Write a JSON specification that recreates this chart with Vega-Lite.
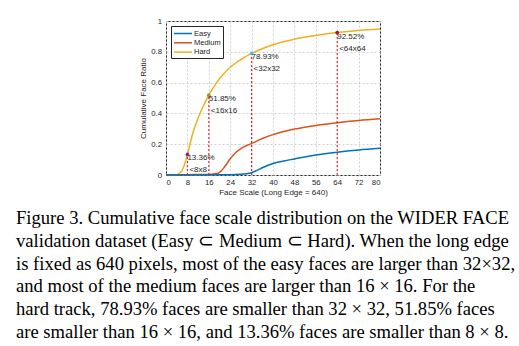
{
  "$schema": "https://vega.github.io/schema/vega-lite/v6.json",
  "autosize": "none",
  "padding": {"left": 166, "top": 21, "right": 139, "bottom": 171},
  "width": 214,
  "height": 154,
  "background": "white",
  "title": {
    "text": [
      "Figure 3. Cumulative face scale distribution on the WIDER FACE",
      "validation dataset (Easy ⊂ Medium ⊂ Hard). When the long edge",
      "is fixed as 640 pixels, most of the easy faces are larger than 32×32,",
      "and most of the medium faces are larger than 16 × 16.  For the",
      "hard track, 78.93% faces are smaller than 32 × 32, 51.85% faces",
      "are smaller than 16 × 16, and 13.36% faces are smaller than 8 × 8."
    ],
    "orient": "bottom",
    "anchor": "start",
    "frame": "group",
    "dx": -150,
    "offset": 12,
    "font": "Liberation Serif",
    "fontSize": 18.6,
    "fontWeight": "normal",
    "color": "black",
    "lineHeight": 22.9
  },
  "config": {
    "view": {"stroke": "#262626", "strokeWidth": 1},
    "axis": {
      "domain": false,
      "ticks": false,
      "grid": true,
      "gridDash": [2, 2],
      "gridColor": "#d0d0d0",
      "gridOpacity": 1,
      "labelFont": "Liberation Sans",
      "labelFontSize": 7.8,
      "labelColor": "#262626",
      "titleFont": "Liberation Sans",
      "titleFontSize": 8,
      "titleFontWeight": "normal",
      "titleColor": "#262626"
    },
    "legend": {
      "orient": "top-left",
      "offset": 5,
      "strokeColor": "#262626",
      "fillColor": "white",
      "padding": 2,
      "symbolType": "M-1,0H3",
      "symbolStrokeWidth": 1.5,
      "symbolSize": 81,
      "labelFont": "Liberation Sans",
      "labelFontSize": 7.5,
      "labelColor": "#262626",
      "labelOffset": 10,
      "rowPadding": 0.3,
      "title": null
    }
  },
  "datasets": {
    "curves": [
      {"x": 0, "y": 0, "level": "Hard"},
      {"x": 3.5, "y": 0, "level": "Hard"},
      {"x": 6, "y": 0.03, "level": "Hard"},
      {"x": 8, "y": 0.1336, "level": "Hard"},
      {"x": 10, "y": 0.27, "level": "Hard"},
      {"x": 12, "y": 0.37, "level": "Hard"},
      {"x": 14, "y": 0.45, "level": "Hard"},
      {"x": 16, "y": 0.5185, "level": "Hard"},
      {"x": 18, "y": 0.575, "level": "Hard"},
      {"x": 20, "y": 0.625, "level": "Hard"},
      {"x": 24, "y": 0.70, "level": "Hard"},
      {"x": 28, "y": 0.75, "level": "Hard"},
      {"x": 32, "y": 0.7893, "level": "Hard"},
      {"x": 36, "y": 0.82, "level": "Hard"},
      {"x": 40, "y": 0.846, "level": "Hard"},
      {"x": 48, "y": 0.882, "level": "Hard"},
      {"x": 56, "y": 0.906, "level": "Hard"},
      {"x": 64, "y": 0.9252, "level": "Hard"},
      {"x": 72, "y": 0.939, "level": "Hard"},
      {"x": 80, "y": 0.948, "level": "Hard"},
      {"x": 0, "y": 0, "level": "Medium"},
      {"x": 8, "y": 0.002, "level": "Medium"},
      {"x": 16, "y": 0.004, "level": "Medium"},
      {"x": 19.5, "y": 0.012, "level": "Medium"},
      {"x": 22, "y": 0.055, "level": "Medium"},
      {"x": 24, "y": 0.105, "level": "Medium"},
      {"x": 26, "y": 0.145, "level": "Medium"},
      {"x": 28, "y": 0.172, "level": "Medium"},
      {"x": 30, "y": 0.19, "level": "Medium"},
      {"x": 32, "y": 0.205, "level": "Medium"},
      {"x": 36, "y": 0.237, "level": "Medium"},
      {"x": 40, "y": 0.262, "level": "Medium"},
      {"x": 48, "y": 0.298, "level": "Medium"},
      {"x": 56, "y": 0.322, "level": "Medium"},
      {"x": 64, "y": 0.34, "level": "Medium"},
      {"x": 72, "y": 0.354, "level": "Medium"},
      {"x": 80, "y": 0.365, "level": "Medium"},
      {"x": 0, "y": 0, "level": "Easy"},
      {"x": 20, "y": 0.001, "level": "Easy"},
      {"x": 28, "y": 0.005, "level": "Easy"},
      {"x": 32, "y": 0.015, "level": "Easy"},
      {"x": 34, "y": 0.03, "level": "Easy"},
      {"x": 36, "y": 0.047, "level": "Easy"},
      {"x": 40, "y": 0.075, "level": "Easy"},
      {"x": 44, "y": 0.091, "level": "Easy"},
      {"x": 48, "y": 0.104, "level": "Easy"},
      {"x": 56, "y": 0.13, "level": "Easy"},
      {"x": 64, "y": 0.148, "level": "Easy"},
      {"x": 72, "y": 0.162, "level": "Easy"},
      {"x": 80, "y": 0.173, "level": "Easy"}
    ],
    "marks": [
      {"x": 8, "y": 0.1336, "pct": "13.36%", "size": "<8x8", "id": "p8"},
      {"x": 16, "y": 0.5185, "pct": "51.85%", "size": "<16x16", "id": "p16"},
      {"x": 32, "y": 0.7893, "pct": "78.93%", "size": "<32x32", "id": "p32"},
      {"x": 64, "y": 0.9252, "pct": "92.52%", "size": "<64x64", "id": "p64"}
    ]
  },
  "encoding": {
    "x": {
      "field": "x", "type": "quantitative",
      "scale": {"domain": [0, 80], "nice": false},
      "axis": {"values": [0, 8, 16, 24, 32, 40, 48, 56, 64, 72, 80], "title": "Face Scale (Long Edge = 640)", "labelPadding": 3, "titlePadding": 3}
    },
    "y": {
      "field": "y", "type": "quantitative",
      "scale": {"domain": [0, 1], "nice": false},
      "axis": {"values": [0, 0.2, 0.4, 0.6, 0.8, 1], "format": "~g", "title": "Cumulative Face Ratio", "labelPadding": 4.5, "titlePadding": 3}
    }
  },
  "layer": [
    {
      "data": {"name": "curves"},
      "mark": {"type": "line", "strokeWidth": 1.5, "interpolate": "monotone"},
      "encoding": {
        "color": {
          "field": "level", "type": "nominal",
          "scale": {"domain": ["Easy", "Medium", "Hard"], "range": ["#0072BD", "#D95319", "#EDB120"]}
        }
      }
    },
    {
      "data": {"name": "marks"},
      "mark": {"type": "rule", "color": "#FF0000", "strokeDash": [2, 2], "strokeWidth": 1},
      "encoding": {"y": {"datum": 0}, "y2": {"field": "y"}}
    },
    {
      "data": {"name": "marks"},
      "mark": {"type": "point", "filled": true, "size": 14, "opacity": 1},
      "encoding": {
        "color": {
          "field": "id", "type": "nominal",
          "scale": {"domain": ["p8", "p16", "p32", "p64"], "range": ["#7E2F8E", "#77AC30", "#4DBEEE", "#A2142F"]},
          "legend": null
        }
      }
    },
    {
      "data": {"name": "marks"},
      "mark": {"type": "text", "align": "left", "baseline": "middle", "dx": 0, "dy": 4, "font": "Liberation Sans", "fontSize": 8, "color": "#262626"},
      "encoding": {"text": {"field": "pct"}}
    },
    {
      "data": {"name": "marks"},
      "mark": {"type": "text", "align": "left", "baseline": "middle", "dx": 2, "dy": 16, "font": "Liberation Sans", "fontSize": 8, "color": "#262626"},
      "encoding": {"text": {"field": "size"}}
    }
  ],
  "resolve": {"scale": {"color": "independent"}}
}
